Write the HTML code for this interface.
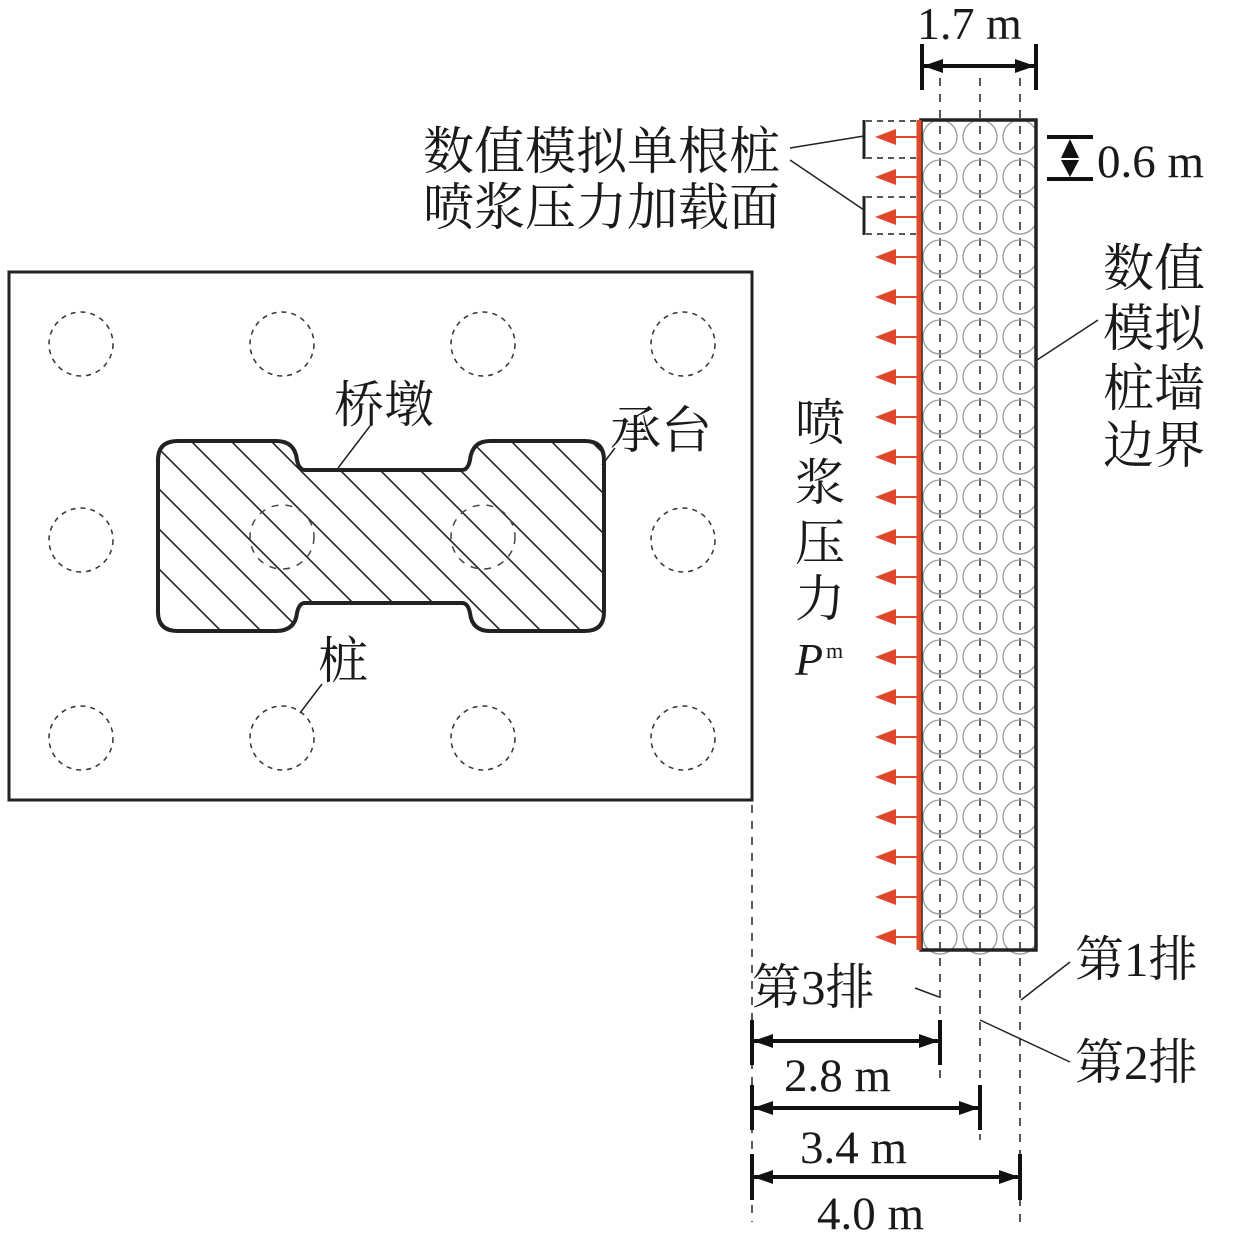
<!DOCTYPE html>
<html><head><meta charset="utf-8"><style>
body{margin:0;background:#fff}
svg{display:block}
text{font-family:"Liberation Serif","Noto Serif CJK SC",serif;fill:#1a1a1a}
</style></head><body>
<svg width="1241" height="1248" viewBox="0 0 1241 1248" xmlns="http://www.w3.org/2000/svg">
<defs>
<clipPath id="pc"><path id="pier" d="M178,441 H276 Q295,441 297,460 Q299,470 305,470 H462 Q468,470 470,460 Q472,441 490,441 H585 Q604,441 604,460 V612 Q604,631 585,631 H490 Q472,631 470,613 Q468,603 462,603 H305 Q299,603 297,613 Q295,631 276,631 H178 Q158,631 158,612 V460 Q158,441 178,441 Z"/></clipPath>
<marker id="ab" viewBox="0 0 10 10" refX="10" refY="5" markerWidth="20" markerHeight="14" markerUnits="userSpaceOnUse" orient="auto-start-reverse" preserveAspectRatio="none"><path d="M0,0 L10,5 L0,10 Z" fill="#111"/></marker>
</defs>
<rect x="9" y="272" width="743" height="528" fill="none" stroke="#222" stroke-width="3"/>
<g fill="none" stroke="#333" stroke-width="1.5" stroke-dasharray="5,5">
<circle cx="81" cy="344" r="32"/><circle cx="282" cy="344" r="32"/><circle cx="483" cy="344" r="32"/><circle cx="683" cy="344" r="32"/>
<circle cx="81" cy="540" r="32"/><circle cx="683" cy="540" r="32"/>
<circle cx="81" cy="738" r="32"/><circle cx="282" cy="738" r="32"/><circle cx="483" cy="738" r="32"/><circle cx="683" cy="738" r="32"/>
</g>
<g clip-path="url(#pc)" stroke="#222" stroke-width="1.6">
<line x1="-80" y1="330" x2="320" y2="730"/><line x1="-40" y1="330" x2="360" y2="730"/><line x1="0" y1="330" x2="400" y2="730"/>
<line x1="40" y1="330" x2="440" y2="730"/><line x1="80" y1="330" x2="480" y2="730"/><line x1="120" y1="330" x2="520" y2="730"/>
<line x1="160" y1="330" x2="560" y2="730"/><line x1="200" y1="330" x2="600" y2="730"/><line x1="240" y1="330" x2="640" y2="730"/>
<line x1="280" y1="330" x2="680" y2="730"/><line x1="320" y1="330" x2="720" y2="730"/><line x1="360" y1="330" x2="760" y2="730"/>
<line x1="400" y1="330" x2="800" y2="730"/><line x1="440" y1="330" x2="840" y2="730"/><line x1="480" y1="330" x2="880" y2="730"/>
<line x1="520" y1="330" x2="920" y2="730"/><line x1="560" y1="330" x2="960" y2="730"/>
</g>
<use href="#pier" fill="none" stroke="#222" stroke-width="4"/>
<g fill="none" stroke="#444" stroke-width="1.5" stroke-dasharray="7,7">
<circle cx="282" cy="537" r="32"/><circle cx="483" cy="537" r="32"/></g>
<text x="334" y="422" font-size="50">桥墩</text>
<line x1="370" y1="426" x2="338" y2="468" stroke="#222" stroke-width="1.5"/>
<text x="610" y="448" font-size="51">承台</text>
<line x1="615" y1="448" x2="602" y2="465" stroke="#222" stroke-width="1.5"/>
<text x="318" y="678" font-size="50">桩</text>
<line x1="322" y1="684" x2="300" y2="713" stroke="#222" stroke-width="1.5"/>
<g stroke="#333" stroke-width="1.6" stroke-dasharray="8,8">
<line x1="752" y1="805" x2="752" y2="1222"/>
<line x1="940" y1="78" x2="940" y2="1078"/>
<line x1="980" y1="78" x2="980" y2="1140"/>
<line x1="1020" y1="78" x2="1020" y2="1222"/>
</g>
<g fill="none" stroke="#999" stroke-width="1.3">
<g id="row"><circle cx="940" cy="137" r="17"/><circle cx="980" cy="137" r="17"/><circle cx="1020" cy="137" r="17"/></g>
<use href="#row" y="40"/><use href="#row" y="80"/><use href="#row" y="120"/><use href="#row" y="160"/><use href="#row" y="200"/>
<use href="#row" y="240"/><use href="#row" y="280"/><use href="#row" y="320"/><use href="#row" y="360"/><use href="#row" y="400"/>
<use href="#row" y="440"/><use href="#row" y="480"/><use href="#row" y="520"/><use href="#row" y="560"/><use href="#row" y="600"/>
<use href="#row" y="640"/><use href="#row" y="680"/><use href="#row" y="720"/><use href="#row" y="760"/><use href="#row" y="800"/>
</g>
<rect x="921" y="120" width="115" height="830" fill="none" stroke="#222" stroke-width="3.5"/>
<line x1="919" y1="120" x2="919" y2="950" stroke="#e0462a" stroke-width="5"/>
<g id="ra"><line x1="893" y1="137" x2="917" y2="137" stroke="#e0462a" stroke-width="2"/><path d="M875,137 L896,129 L896,145 Z" fill="#e0462a"/></g>
<use href="#ra" y="40"/><use href="#ra" y="80"/><use href="#ra" y="120"/><use href="#ra" y="160"/><use href="#ra" y="200"/>
<use href="#ra" y="240"/><use href="#ra" y="280"/><use href="#ra" y="320"/><use href="#ra" y="360"/><use href="#ra" y="400"/>
<use href="#ra" y="440"/><use href="#ra" y="480"/><use href="#ra" y="520"/><use href="#ra" y="560"/><use href="#ra" y="600"/>
<use href="#ra" y="640"/><use href="#ra" y="680"/><use href="#ra" y="720"/><use href="#ra" y="760"/><use href="#ra" y="800"/>
<g fill="none" stroke="#222" stroke-width="1.5" stroke-dasharray="6,5">
<path d="M866,121 H920 M866,158 H920 M866,197 H920 M866,234 H920"/></g>
<g stroke="#222" stroke-width="3"><line x1="864" y1="120" x2="864" y2="159"/><line x1="864" y1="196" x2="864" y2="235"/></g>
<g stroke="#222" stroke-width="1.5"><line x1="790" y1="148" x2="864" y2="136"/><line x1="790" y1="160" x2="864" y2="210"/></g>
<text x="423" y="169" font-size="51">数值模拟单根桩</text>
<text x="423" y="225" font-size="51">喷浆压力加载面</text>
<text x="917" y="39" font-size="46">1.7 m</text>
<g stroke="#111" stroke-width="4"><line x1="922" y1="44" x2="922" y2="90"/><line x1="1036" y1="44" x2="1036" y2="90"/></g>
<line x1="923" y1="66" x2="1035" y2="66" stroke="#111" stroke-width="4" marker-start="url(#ab)" marker-end="url(#ab)"/>
<g stroke="#111" stroke-width="4"><line x1="1047" y1="137" x2="1093" y2="137"/><line x1="1047" y1="179" x2="1093" y2="179"/></g>
<path d="M1070,139 L1061,158 L1079,158 Z M1070,177 L1061,160 L1079,160 Z" fill="#111"/>
<text x="1097" y="177" font-size="47">0.6 m</text>
<g font-size="51"><text x="1103" y="286">数值</text><text x="1103" y="346">模拟</text><text x="1103" y="406">桩墙</text><text x="1103" y="463">边界</text></g>
<line x1="1098" y1="320" x2="1037" y2="360" stroke="#222" stroke-width="1.5"/>
<g font-size="50"><text x="795" y="440">喷</text><text x="795" y="500">浆</text><text x="795" y="560">压</text><text x="795" y="616">力</text></g>
<text x="795" y="675" font-size="46" font-style="italic">P</text><text x="826" y="658" font-size="22">m</text>
<g font-size="49"><text x="1075" y="976">第1排</text><text x="752" y="1004">第3排</text><text x="1075" y="1079">第2排</text></g>
<g stroke="#222" stroke-width="1.5"><line x1="1070" y1="962" x2="1021" y2="1000"/><line x1="915" y1="988" x2="939" y2="997"/><line x1="980" y1="1020" x2="1070" y2="1062"/></g>
<g stroke="#111" stroke-width="4">
<line x1="752" y1="1020" x2="752" y2="1065"/><line x1="940" y1="1020" x2="940" y2="1065"/>
<line x1="752" y1="1085" x2="752" y2="1130"/><line x1="980" y1="1085" x2="980" y2="1130"/>
<line x1="752" y1="1154" x2="752" y2="1200"/><line x1="1020" y1="1154" x2="1020" y2="1200"/>
</g>
<g stroke="#111" stroke-width="4">
<line x1="753" y1="1041" x2="939" y2="1041" marker-start="url(#ab)" marker-end="url(#ab)"/>
<line x1="753" y1="1108" x2="979" y2="1108" marker-start="url(#ab)" marker-end="url(#ab)"/>
<line x1="753" y1="1177" x2="1019" y2="1177" marker-start="url(#ab)" marker-end="url(#ab)"/>
</g>
<g font-size="47"><text x="784" y="1091">2.8 m</text><text x="800" y="1163">3.4 m</text><text x="817" y="1229">4.0 m</text></g>
</svg>
</body></html>
